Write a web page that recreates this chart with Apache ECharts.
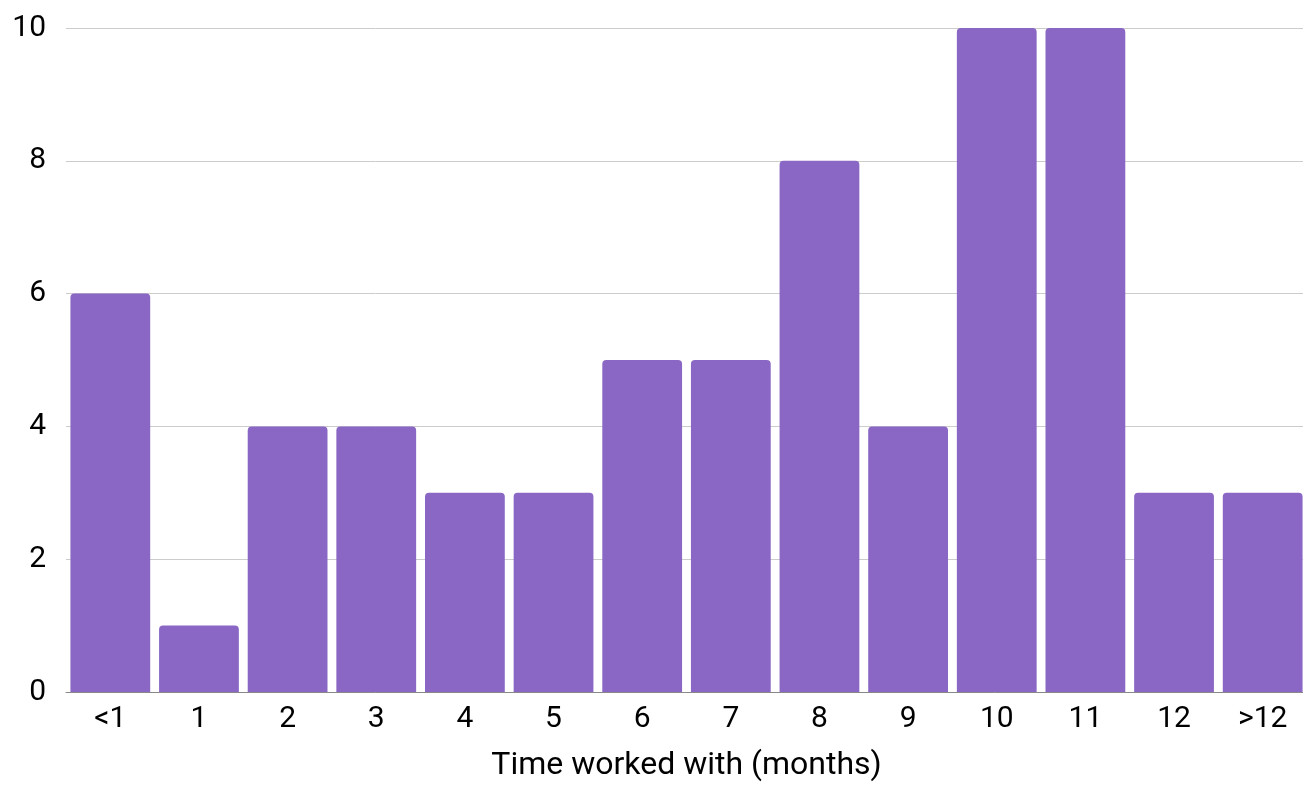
<!DOCTYPE html>
<html>
<head>
<meta charset="utf-8">
<script src="https://cdn.jsdelivr.net/npm/echarts@6/dist/echarts.min.js"></script>
<style>
  html, body { margin: 0; padding: 0; background: #fff; }
  #chart { width: 1303px; height: 787px; }
</style>
</head>
<body>
<div id="chart"></div>
<script>
// Months worked with, bucketed, and how many people fall in each bucket
const categories = ['<1', '1', '2', '3', '4', '5', '6', '7', '8', '9', '10', '11', '12', '>12'];
const counts = [6, 1, 4, 4, 3, 3, 5, 5, 8, 4, 10, 10, 3, 3];
const yTicks = { min: 0, max: 10, interval: 2 };

const chart = echarts.init(document.getElementById('chart'));
chart.setOption({
  animation: false,
  textStyle: { fontFamily: 'Roboto' },
  grid: { left: 66, right: -4, top: 28, bottom: 95, containLabel: false, outerBoundsMode: 'none' },
  xAxis: {
    type: 'category',
    data: categories,
    name: 'Time worked with (months)',
    nameLocation: 'middle',
    nameGap: 58,
    nameTextStyle: { fontSize: 32, color: '#000', fontFamily: 'Roboto' },
    axisTick: { show: false },
    axisLine: { lineStyle: { color: '#888', width: 1 } },
    axisLabel: { fontSize: 30, color: '#000', margin: 12, fontFamily: 'Roboto' }
  },
  yAxis: {
    type: 'value',
    min: yTicks.min,
    max: yTicks.max,
    interval: yTicks.interval,
    axisLine: { show: false },
    axisTick: { show: false },
    splitLine: { lineStyle: { color: '#cccccc', width: 1 } },
    axisLabel: { fontSize: 30, color: '#000', margin: 20, fontFamily: 'Roboto' }
  },
  series: [{
    type: 'bar',
    data: counts,
    barCategoryGap: '10%',
    itemStyle: { color: '#8a67c4', borderRadius: [4, 4, 0, 0] }
  }]
});
</script>
</body>
</html>
